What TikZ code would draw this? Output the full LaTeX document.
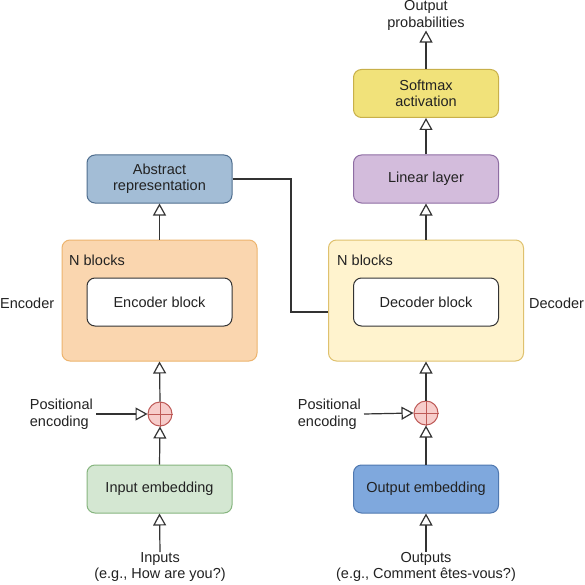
\documentclass[tikz,border=0pt]{standalone}
\usepackage{fontspec}
\setmainfont{Liberation Sans}
\usetikzlibrary{arrows.meta}
\definecolor{txt}{HTML}{222222}
\definecolor{ln}{HTML}{333333}
\definecolor{absF}{HTML}{A3BDD6}\definecolor{absD}{HTML}{4F6E8F}
\definecolor{encF}{HTML}{FAD6AF}\definecolor{encD}{HTML}{EDB46E}
\definecolor{decF}{HTML}{FFF3CE}\definecolor{decD}{HTML}{DFC16E}
\definecolor{linF}{HTML}{D3BCDC}\definecolor{linD}{HTML}{8E6DA3}
\definecolor{smF}{HTML}{F1E27A}\definecolor{smD}{HTML}{C8B04A}
\definecolor{ieF}{HTML}{D4E7D2}\definecolor{ieD}{HTML}{86B57F}
\definecolor{oeF}{HTML}{7FA8DD}\definecolor{oeD}{HTML}{4F78B0}
\definecolor{plF}{HTML}{F7CDCB}\definecolor{plD}{HTML}{BE5A57}
\tikzset{
  fnt/.style={font=\fontsize{14.5}{16.5}\selectfont, text=txt},
  box/.style={fnt, draw, rounded corners=8pt, line width=1pt, minimum width=145pt, minimum height=48pt, align=center, inner sep=0pt},
  outer/.style={draw, rounded corners=8pt, line width=1pt, minimum width=195pt, minimum height=121pt, inner sep=0pt},
  lbl/.style={fnt, inner sep=0pt, align=center},
  arr/.style={draw=ln, line width=1.2pt, -{Triangle[open, width=13pt, length=12pt, fill=white, line width=1.2pt]}},
  plus/.style={circle, draw=plD, fill=plF, line width=1pt, minimum size=24pt, inner sep=0pt},
}
\begin{document}
\begin{tikzpicture}[x=1pt,y=-1pt]
\useasboundingbox[fill=white] (0,0) rectangle (584,585);
% Encoder side
\node[outer, fill=encF, draw=encD] (encN) at (159.5,300.5) {};
\node[box, fill=white, draw=ln] (encB) at (159.5,302) {Encoder block};
\node[lbl, anchor=west] (encNl) at (69,260) {N blocks};
\node[lbl, anchor=west] (encL) at (0,303) {Encoder};
\node[box, fill=absF, draw=absD] (abs) at (159.5,179) {Abstract\\representation};
\node[plus] (p1) at (160,414) {};
\draw[plD, line width=1pt] (p1.north) -- (p1.south) (p1.west) -- (p1.east);
\node[lbl, align=left, anchor=east] (pe1) at (93,414) {Positional\\encoding};
\node[box, fill=ieF, draw=ieD] (ie) at (159.5,489) {Input embedding};
\node[lbl] (in) at (160,567) {Inputs\\(e.g., How are you?)};
% Decoder side
\node[outer, fill=decF, draw=decD] (decN) at (426,300.5) {};
\node[box, fill=white, draw=ln] (decB) at (426,302) {Decoder block};
\node[lbl, anchor=west] (decNl) at (337,260) {N blocks};
\node[lbl, anchor=west] (decL) at (529,303) {Decoder};
\node[box, fill=linF, draw=linD] (lin) at (426,179) {Linear layer};
\node[box, fill=smF, draw=smD] (sm) at (426,93.5) {Softmax\\activation};
\node[lbl] (op) at (426,15.5) {Output\\probabilities};
\node[plus] (p2) at (426,413) {};
\draw[plD, line width=1pt] (p2.north) -- (p2.south) (p2.west) -- (p2.east);
\node[lbl, align=left, anchor=east] (pe2) at (361,414) {Positional\\encoding};
\node[box, fill=oeF, draw=oeD] (oe) at (426,489) {Output embedding};
\node[lbl] (out) at (426,567) {Outputs\\(e.g., Comment êtes-vous?)};
% connectors
\draw[arr] (in.north) -- (ie.south);
\draw[arr] (ie.north) -- (p1.south);
\draw[arr] (pe1.east) ++(3,0) -- (p1.west);
\draw[arr] (p1.north) -- (encN.south);
\draw[arr] (encN.north) -- (abs.south);
\draw[arr] (out.north) -- (oe.south);
\draw[arr] (oe.north) -- (p2.south);
\draw[arr] (pe2.east) ++(3,0) -- (p2.west);
\draw[arr] (p2.north) -- (decN.south);
\draw[arr] (decN.north) -- (lin.south);
\draw[arr] (lin.north) -- (sm.south);
\draw[arr] (sm.north) -- (op.south);
\draw[ln, line width=1.2pt] (abs.east) -- (291,179) |- (decN.west |- 0,312);
\end{tikzpicture}
\end{document}
